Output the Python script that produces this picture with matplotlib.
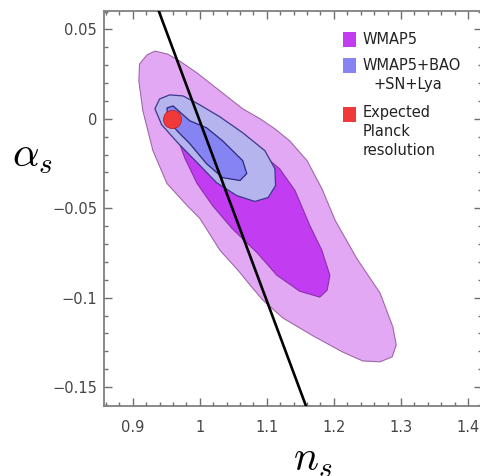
import matplotlib
matplotlib.use('Agg')
import matplotlib.pyplot as plt
from matplotlib.patches import Rectangle
from matplotlib.ticker import MultipleLocator

plt.rcParams['mathtext.fontset'] = 'cm'

# WMAP5 95% region (outer, light violet)
wmap95_ns = [0.909, 0.910, 0.921, 0.933, 0.952, 0.970, 0.996, 1.030, 1.064, 1.090,
             1.112, 1.134, 1.160, 1.182, 1.202, 1.234, 1.269, 1.288, 1.293, 1.287,
             1.269, 1.243, 1.213, 1.169, 1.124, 1.094, 1.075, 1.057, 1.030, 1.000,
             0.981, 0.951, 0.930, 0.915]
wmap95_as = [0.0212, 0.0306, 0.0357, 0.0379, 0.0362, 0.0323, 0.0256, 0.0156, 0.0056, 0.0,
             -0.0056, -0.0123, -0.0234, -0.0390, -0.0568, -0.0780, -0.0975, -0.1164, -0.1265, -0.1331,
             -0.1359, -0.1354, -0.1304, -0.1214, -0.1114, -0.1014, -0.0930, -0.0847, -0.0735, -0.0557,
             -0.0485, -0.0362, -0.0178, 0.0045]

# WMAP5 68% region
wmap68_ns = [0.967, 0.985, 1.022, 1.060, 1.090, 1.119, 1.142, 1.164, 1.182, 1.194,
             1.190, 1.179, 1.149, 1.115, 1.085, 1.048, 1.019, 0.996, 0.978, 0.967]
wmap68_as = [0.0, 0.0045, -0.0011, -0.0111, -0.0189, -0.0279, -0.0401, -0.0596, -0.0735, -0.0875,
             -0.0958, -0.0997, -0.0964, -0.0875, -0.0747, -0.0613, -0.0485, -0.0362, -0.0223, -0.0111]

# WMAP5+BAO+SN+Lya 95% region
bao95_ns = [0.933, 0.940, 0.955, 0.975, 1.000, 1.030, 1.064, 1.097, 1.112, 1.113,
            1.102, 1.082, 1.055, 1.025, 0.996, 0.967, 0.943]
bao95_as = [0.0056, 0.0111, 0.0134, 0.0128, 0.0078, 0.0011, -0.0078, -0.0178, -0.0279, -0.0373,
            -0.0440, -0.0462, -0.0429, -0.0357, -0.0245, -0.0134, -0.0033]

# WMAP5+BAO+SN+Lya 68% region
bao68_ns = [0.951, 0.960, 0.985, 1.010, 1.034, 1.064, 1.070, 1.060, 1.034, 1.010,
            0.985, 0.966, 0.952]
bao68_as = [0.0061, 0.0072, -0.0011, -0.0050, -0.0123, -0.0234, -0.0306, -0.0345, -0.0329, -0.0251,
            -0.0139, -0.0067, 0.0]

# expected Planck point
planck_ns = [0.958]
planck_as = [0.0]

# black line
line_ns = [0.9388, 1.1582]
line_as = [0.0602, -0.1604]

xticks = [0.9, 1.0, 1.1, 1.2, 1.3, 1.4]
xticklabels = ['0.9', '1', '1.1', '1.2', '1.3', '1.4']
yticks = [0.05, 0.0, -0.05, -0.1, -0.15]
yticklabels = ['0.05', '0', '\u22120.05', '\u22120.1', '\u22120.15']

c_w95 = '#e2a8f4'
c_w68 = '#c23cf2'
c_b95 = '#b6b4ee'
c_b68 = '#8684f2'
c_red = '#f03a3a'

fig = plt.figure(figsize=(4.8, 4.76), dpi=100)
ax = fig.add_axes([104 / 480, 1 - 406 / 476, 378 / 480, 395 / 476])

ax.fill(wmap95_ns, wmap95_as, facecolor=c_w95, edgecolor='#a068a8', lw=0.8, zorder=1)
ax.fill(wmap68_ns, wmap68_as, facecolor=c_w68, edgecolor='#8a30a8', lw=0.8, zorder=2)
ax.fill(bao95_ns, bao95_as, facecolor=c_b95, edgecolor='#3a3a8a', lw=0.9, zorder=3)
ax.fill(bao68_ns, bao68_as, facecolor=c_b68, edgecolor='#2a2a7a', lw=0.9, zorder=4)
ax.plot(planck_ns, planck_as, 'o', ms=13, color=c_red, mec='#c02020', mew=0.6, zorder=5)
ax.plot(line_ns, line_as, color='black', lw=1.9, zorder=6)

ax.set_xlim(0.857, 1.421)
ax.set_ylim(-0.1606, 0.0603)

ax.set_xticks(xticks)
ax.set_xticklabels(xticklabels)
ax.set_yticks(yticks)
ax.set_yticklabels(yticklabels)
ax.xaxis.set_minor_locator(MultipleLocator(0.02))
ax.yaxis.set_minor_locator(MultipleLocator(0.01))
ax.tick_params(which='both', direction='in', top=True, right=True, color='#707070', width=1.0)
ax.tick_params(which='major', length=6)
ax.tick_params(which='minor', length=3)
ax.tick_params(axis='x', which='major', pad=10, labelsize=10.5, labelcolor='#444444')
ax.tick_params(axis='y', which='major', pad=5, labelsize=10.5, labelcolor='#444444')
for sp in ax.spines.values():
    sp.set_color('#808080')
    sp.set_linewidth(1.3)

ax.set_xlabel(r'$n_s$', fontsize=30)
ax.xaxis.set_label_coords(0.553, -0.134)
ax.xaxis.label.set_va('center')
ax.set_ylabel(r'$\alpha_s$', fontsize=30, rotation=0)
ax.yaxis.set_label_coords(-0.188, 0.635)
ax.yaxis.label.set_va('center')
ax.yaxis.label.set_ha('center')

# legend drawn by hand
sq_w, sq_h = 0.0344, 0.038
for y0, col in [(0.909, c_w68), (0.843, c_b68), (0.719, c_red)]:
    ax.add_patch(Rectangle((0.632, y0), sq_w, sq_h, transform=ax.transAxes,
                           facecolor=col, edgecolor='none', zorder=7))
tkw = dict(transform=ax.transAxes, fontsize=10.5, color='#222222', va='center', zorder=7)
ax.text(0.685, 0.927, 'WMAP5', **tkw)
ax.text(0.685, 0.861, 'WMAP5+BAO', **tkw)
ax.text(0.714, 0.813, '+SN+Lya', **tkw)
ax.text(0.685, 0.742, 'Expected', **tkw)
ax.text(0.685, 0.696, 'Planck', **tkw)
ax.text(0.685, 0.648, 'resolution', **tkw)

fig.savefig('out.png', dpi=100)
